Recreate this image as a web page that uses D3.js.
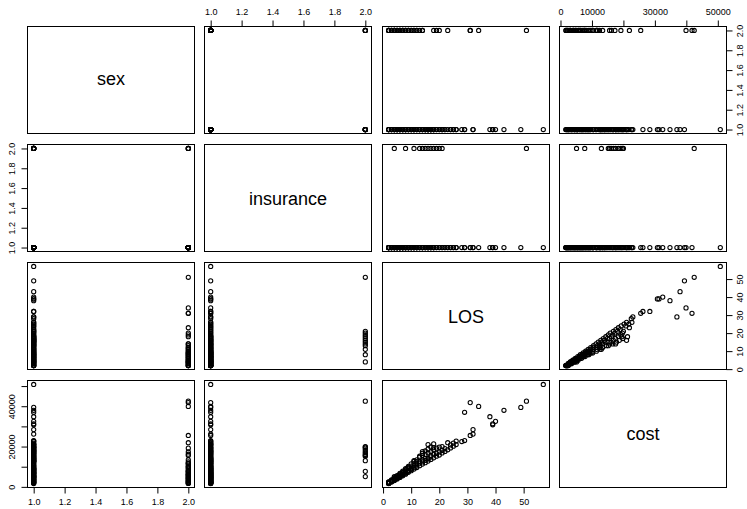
<!DOCTYPE html>
<html><head><meta charset="utf-8">
<script src="https://cdn.jsdelivr.net/npm/d3@7"></script>
<style>
body{margin:0;background:#fff}
svg{display:block}
</style>
</head><body>
<svg id="chart" width="747" height="509"></svg>
<script>
// ---------- data (one entry per patient) ----------
const vars = ["sex", "insurance", "LOS", "cost"];

const los = [
  2,2,2,2,2,2,2,2,2,
  3,3,3,3,3,3,3,
  4,4,4,4,4,4,4,4,4,
  5,5,5,5,5,5,5,5,
  6,6,6,6,6,6,6,6,
  7,7,7,7,7,7,7,7,
  8,8,8,8,8,8,8,8,
  9,9,9,9,9,9,9,
  10,10,10,10,10,10,
  11,11,11,11,11,11,
  12,12,12,12,12,
  13,13,13,13,13,
  14,14,14,14,14,14,
  15,15,15,15,15,
  16,16,16,16,16,16,
  17,17,17,17,17,
  18,18,18,18,18,
  19,19,19,
  20,20,20,
  21,21,21,
  22,22,
  23,23,
  24,24,
  25,25,
  26,26,
  28,29,
  57,51,49,43,40,39,39,38,34,31,29,32,32,31
];
const cost = [
  1650,1800,2000,1700,1900,2100,2300,2500,2200,
  2400,2600,2900,3200,3500,2700,3000,
  3100,3400,3700,4100,4600,3900,3300,4300,5100,
  3900,4200,4600,5000,5600,4400,4800,5300,
  4700,5100,5500,6000,6700,5300,5800,6300,
  5500,6000,6500,7100,7800,6200,6800,7400,
  6300,6800,7400,8200,9000,7000,8600,7700,
  7200,7700,8300,9200,10200,8000,9700,
  8000,8600,9300,10300,11400,9000,
  8800,9500,10400,11500,12600,13000,
  9600,10300,11300,12500,13400,
  10500,11800,15200,12600,14600,
  11300,12400,15600,17500,13300,16600,
  12000,13200,16100,14100,17800,
  12800,14000,16800,21000,13900,18700,
  13600,14900,17500,15600,19800,
  14400,16200,18400,21300,19500,
  15200,16600,19200,
  15800,17300,19700,
  16800,18100,20000,
  17600,19000,
  18400,21900,
  19300,20800,
  20200,21700,
  21000,22700,
  22500,23000,
  50800,42500,39400,38000,32500,31300,30800,34800,39900,41800,37000,28400,26200,25500
];
const sex = [
  1,2,1,2,1,2,1,1,2,
  1,2,1,2,1,1,2,
  2,1,1,2,1,2,1,1,2,
  1,2,1,1,2,1,2,1,
  2,1,1,2,1,1,2,1,
  1,1,2,1,2,1,1,2,
  2,1,1,2,1,2,1,1,
  1,2,1,1,2,1,2,
  1,1,2,1,2,1,
  2,1,1,2,1,1,
  1,2,1,1,2,
  1,2,1,1,1,
  1,2,2,1,1,1,
  1,1,1,1,1,
  1,1,1,1,1,1,
  1,1,1,1,1,
  1,2,1,1,1,
  1,1,2,
  1,2,1,
  1,1,1,
  1,1,
  1,2,
  1,1,
  1,1,
  1,1,
  1,1,
  1,2,1,1,1,1,1,1,2,2,1,1,1,2
];
const insurance = [
  1,1,1,1,1,1,1,1,1,
  1,1,1,1,1,1,1,
  1,1,1,1,1,1,1,1,2,
  1,1,1,1,1,1,1,1,
  1,1,1,1,1,1,1,1,
  1,1,1,1,1,1,1,1,
  1,1,1,1,1,1,1,2,
  1,1,1,1,1,1,1,
  1,1,1,1,1,1,
  1,1,1,1,1,2,
  1,1,1,1,1,
  1,1,2,1,1,
  1,1,2,1,1,1,
  1,1,2,1,1,
  1,1,2,1,1,1,
  1,1,2,1,1,
  1,1,2,1,1,
  1,1,2,
  1,1,2,
  1,1,2,
  1,1,
  1,1,
  1,1,
  1,1,
  1,1,
  1,1,
  1,2,1,1,1,1,1,1,1,1,1,1,1,1
];

// ---------- tick values and labels ----------
const sexTicks = [1.0, 1.2, 1.4, 1.6, 1.8, 2.0];
const sexTickLabels = ["1.0", "1.2", "1.4", "1.6", "1.8", "2.0"];
const insuranceTicks = [1.0, 1.2, 1.4, 1.6, 1.8, 2.0];
const insuranceTickLabels = ["1.0", "1.2", "1.4", "1.6", "1.8", "2.0"];
const losTicks = [0, 10, 20, 30, 40, 50];
const losTickLabels = ["0", "10", "20", "30", "40", "50"];
const costTicks = [0, 10000, 20000, 30000, 40000, 50000];
const costTickLabelsTop = ["0", "10000", "", "30000", "", "50000"];
const costTickLabelsLeft = ["0", "", "20000", "", "40000", ""];

// ---------- layout ----------
const FONT = "'Liberation Sans', Arial, Helvetica, sans-serif";
const colLeft = j => Math.floor(27.3 + j * 177.5) + 0.5;
const rowTop = i => Math.floor(26.7 + i * 117.8) + 0.5;
const PW = 167, PH = 107;
const tickFont = 9, labelFont = 18;

const columns = { sex: sex, insurance: insurance, LOS: los, cost: cost };
const ticks = {
  sex: { vals: sexTicks, h: sexTickLabels, v: sexTickLabels },
  insurance: { vals: insuranceTicks, h: insuranceTickLabels, v: insuranceTickLabels },
  LOS: { vals: losTicks, h: losTickLabels, v: losTickLabels },
  cost: { vals: costTicks, h: costTickLabelsTop, v: costTickLabelsLeft }
};
const data = los.map((d, k) => ({ sex: sex[k], insurance: insurance[k], LOS: los[k], cost: cost[k] }));

function domainOf(v) {
  const [a, b] = d3.extent(columns[v]);
  const r = b - a;
  return [a - 0.04 * r, b + 0.04 * r];
}

const svg = d3.select("#chart");
svg.append("rect").attr("width", 747).attr("height", 509).attr("fill", "#fff");

const measureCtx = document.createElement("canvas").getContext("2d");

function drawAxis(side, scale, v, pos) {
  const t = ticks[v];
  const labels = (side === "top" || side === "bottom") ? t.h : t.v;
  const gen = side === "top" ? d3.axisTop(scale) : side === "bottom" ? d3.axisBottom(scale)
            : side === "left" ? d3.axisLeft(scale) : d3.axisRight(scale);
  gen.tickValues(t.vals).tickFormat((d, i) => labels[i]).tickSizeOuter(0).tickSizeInner(6);
  const tr = (side === "top" || side === "bottom") ? `translate(0,${pos})` : `translate(${pos},0)`;
  const g = svg.append("g").attr("transform", tr).call(gen)
    .attr("font-family", FONT).attr("font-size", tickFont).style("color", "#000");
  g.select(".domain").remove();
  g.selectAll(".tick line").attr("stroke-width", 1);
  const txt = g.selectAll(".tick text").attr("fill", "#000").attr("dy", null);
  if (side === "top") txt.attr("y", -11.75);
  else if (side === "bottom") txt.attr("y", 17.85);
  else if (side === "left") txt.attr("x", null).attr("text-anchor", "middle")
      .attr("transform", "translate(-12.25,0) rotate(-90)");
  else txt.attr("x", null).attr("text-anchor", "middle")
      .attr("transform", "translate(16.55,0) rotate(-90)");
}

const n = vars.length;
vars.forEach((yv, i) => {
  vars.forEach((xv, j) => {
    const x0 = colLeft(j), y0 = rowTop(i);
    const xs = d3.scaleLinear().domain(domainOf(xv)).range([x0, x0 + PW]);
    const ys = d3.scaleLinear().domain(domainOf(yv)).range([y0 + PH, y0]);
    const panel = svg.append("g");
    if (i === j) {
      measureCtx.font = `${labelFont}px ${FONT}`;
      const m = measureCtx.measureText(xv);
      const base = y0 + PH / 2 + (m.actualBoundingBoxAscent - m.actualBoundingBoxDescent) / 2;
      panel.append("text").attr("x", x0 + PW / 2).attr("y", base)
        .attr("text-anchor", "middle").attr("font-family", FONT)
        .attr("font-size", labelFont).attr("fill", "#000").text(xv);
    } else {
      panel.selectAll("circle").data(data).join("circle")
        .attr("cx", d => xs(d[xv])).attr("cy", d => ys(d[yv]))
        .attr("r", 2.1).attr("fill", "none").attr("stroke", "#000").attr("stroke-width", 1.05);
    }
    panel.append("rect").attr("x", x0).attr("y", y0).attr("width", PW).attr("height", PH)
      .attr("fill", "none").attr("stroke", "#000").attr("stroke-width", 1);

    if (i === 0 && j % 2 === 1) drawAxis("top", xs, xv, y0);
    if (i === n - 1 && j % 2 === 0) drawAxis("bottom", xs, xv, y0 + PH);
    if (j === 0 && i % 2 === 1) drawAxis("left", ys, yv, x0);
    if (j === n - 1 && i % 2 === 0) drawAxis("right", ys, yv, x0 + PW);
  });
});
</script>
</body></html>
